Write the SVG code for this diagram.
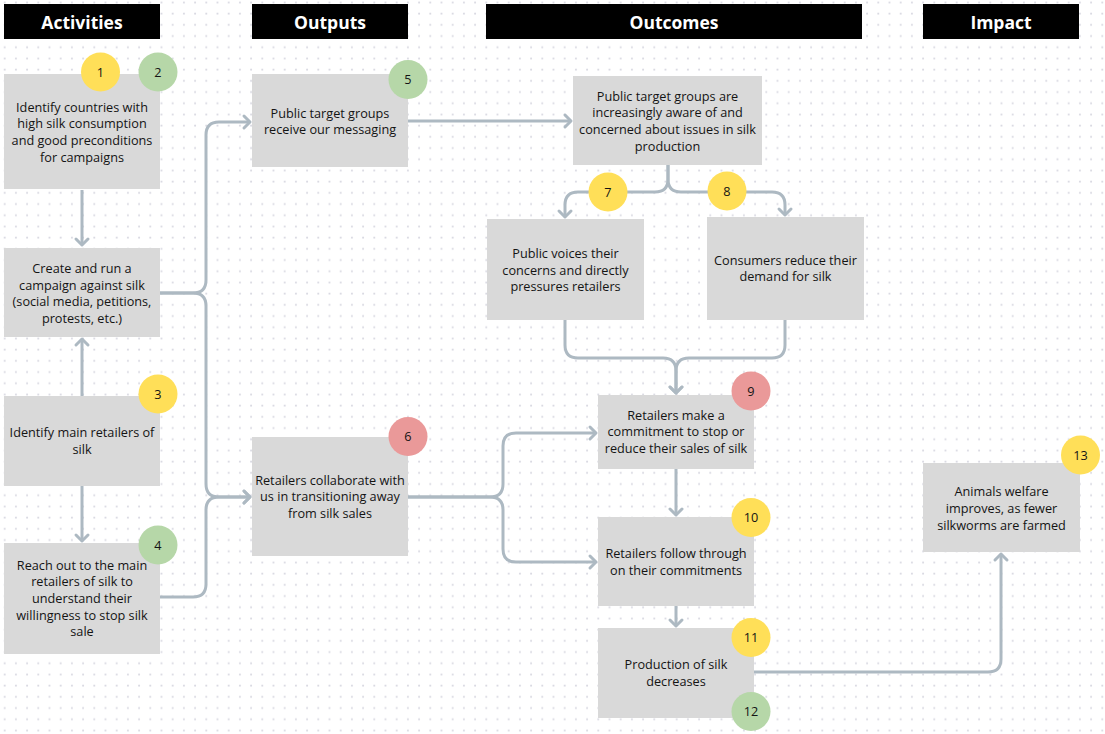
<svg xmlns="http://www.w3.org/2000/svg" width="1105" height="734" viewBox="0 0 1105 734">
<style>
.hdr{fill:#000}
.ht{font-family:"Open Sans","Noto Sans",sans-serif;font-weight:700;font-size:17.5px;fill:#fff;text-anchor:middle}
.box{fill:#d9d9d9}
.t{font-family:"Open Sans","Noto Sans",sans-serif;font-size:12.7px;fill:#141414;text-anchor:middle}
.n{font-family:"Open Sans","Noto Sans",sans-serif;font-size:12.7px;fill:#141414;text-anchor:middle}
.y{fill:#ffdf58}
.g{fill:#b6d7a8}
.r{fill:#ea9999}
.ca{fill:none;stroke:#adb9c2;stroke-width:3;marker-end:url(#arr)}
</style>
<defs>
<pattern id="dots" patternUnits="userSpaceOnUse" x="0" y="0" width="11.2" height="11.2">
<circle cx="4.7" cy="2.5" r="1" fill="#d8d8e1"/>
</pattern>
<marker id="arr" viewBox="-10 -10 20 20" markerWidth="20" markerHeight="20" refX="0" refY="0" orient="auto" markerUnits="userSpaceOnUse">
<path d="M-6,-6 L0,0 L-6,6" fill="none" stroke="#adb9c2" stroke-width="3" stroke-linecap="round" stroke-linejoin="round"/>
</marker>
</defs>
<rect width="1105" height="734" fill="#ffffff"/>
<rect width="1105" height="734" fill="url(#dots)"/>

<g id="headers">
<rect class="hdr" x="4" y="4" width="156" height="35"/>
<text class="ht" x="82" y="28.5">Activities</text>
<rect class="hdr" x="252" y="4" width="156" height="35"/>
<text class="ht" x="330" y="28.5">Outputs</text>
<rect class="hdr" x="486" y="4" width="376" height="35"/>
<text class="ht" x="674" y="28.5">Outcomes</text>
<rect class="hdr" x="923" y="4" width="156" height="35"/>
<text class="ht" x="1001" y="28.5">Impact</text>
</g>

<g id="connectors">
<path class="ca" d="M82,190 V245"/>
<path class="ca" d="M82,396 V339"/>
<path class="ca" d="M82,486 V541"/>
<path class="ca" d="M160,293 H193 Q206,293 206,280 V135 Q206,122 219,122 H250"/>
<path class="ca" d="M160,293 H193 Q206,293 206,306 V484 Q206,497 219,497 H250"/>
<path class="ca" d="M160,597 H193 Q206,597 206,584 V510 Q206,497 219,497 H250"/>
<path class="ca" d="M408,121 H571"/>
<path class="ca" d="M668,165 V179 Q668,192 655,192 H578 Q565,192 565,205 V217"/>
<path class="ca" d="M668,165 V179 Q668,192 681,192 H772 Q785,192 785,205 V215"/>
<path class="ca" d="M565,320 V345 Q565,358 578,358 H663 Q676,358 676,371 V393"/>
<path class="ca" d="M785,320 V345 Q785,358 772,358 H689 Q676,358 676,371 V393"/>
<path class="ca" d="M408,497 H490 Q503,497 503,484 V446 Q503,433 516,433 H596"/>
<path class="ca" d="M408,497 H490 Q503,497 503,510 V549 Q503,562 516,562 H596"/>
<path class="ca" d="M676,469 V515"/>
<path class="ca" d="M676,606 V626"/>
<path class="ca" d="M754,672 H988 Q1001,672 1001,659 V554"/>
</g>

<g id="n1">
<rect class="box" x="4" y="74" width="156" height="115"/>
<text class="t" x="82" y="111.5">Identify countries with</text>
<text class="t" x="82" y="128.2">high silk consumption</text>
<text class="t" x="82" y="144.9">and good preconditions</text>
<text class="t" x="82" y="161.6">for campaigns</text>
<circle class="y" cx="100.5" cy="72" r="19.5"/>
<text class="n" x="100.5" y="76.5">1</text>
<circle class="g" cx="158" cy="72" r="19.5"/>
<text class="n" x="158" y="76.5">2</text>
</g>

<g id="n2">
<rect class="box" x="4" y="248" width="156" height="89"/>
<text class="t" x="82" y="272.8">Create and run a</text>
<text class="t" x="82" y="289.5">campaign against silk</text>
<text class="t" x="82" y="306.2">(social media, petitions,</text>
<text class="t" x="82" y="322.9">protests, etc.)</text>
</g>

<g id="n3">
<rect class="box" x="4" y="396" width="156" height="90"/>
<text class="t" x="82" y="437">Identify main retailers of</text>
<text class="t" x="82" y="453.7">silk</text>
<circle class="y" cx="158" cy="394" r="19.5"/>
<text class="n" x="158" y="398.5">3</text>
</g>

<g id="n4">
<rect class="box" x="4" y="543" width="156" height="111"/>
<text class="t" x="82" y="569.5">Reach out to the main</text>
<text class="t" x="82" y="586.2">retailers of silk to</text>
<text class="t" x="82" y="602.9">understand their</text>
<text class="t" x="82" y="619.6">willingness to stop silk</text>
<text class="t" x="82" y="636.3">sale</text>
<circle class="g" cx="158" cy="545" r="19.5"/>
<text class="n" x="158" y="549.5">4</text>
</g>

<g id="n5">
<rect class="box" x="252" y="74" width="156" height="93"/>
<text class="t" x="330" y="117.5">Public target groups</text>
<text class="t" x="330" y="134.2">receive our messaging</text>
<circle class="g" cx="408" cy="79.5" r="19.5"/>
<text class="n" x="408" y="84">5</text>
</g>

<g id="n6">
<rect class="box" x="252" y="437" width="156" height="119"/>
<text class="t" x="330" y="484.5">Retailers collaborate with</text>
<text class="t" x="330" y="501.2">us in transitioning away</text>
<text class="t" x="330" y="517.9">from silk sales</text>
<circle class="r" cx="408" cy="436.5" r="19.5"/>
<text class="n" x="408" y="441">6</text>
</g>

<g id="n_aware">
<rect class="box" x="573" y="76" width="189" height="89"/>
<text class="t" x="667.5" y="100.6">Public target groups are</text>
<text class="t" x="667.5" y="117.3">increasingly aware of and</text>
<text class="t" x="667.5" y="134">concerned about issues in silk</text>
<text class="t" x="667.5" y="150.7">production</text>
</g>

<g id="n7">
<rect class="box" x="487" y="219" width="157" height="101"/>
<text class="t" x="565.5" y="257.8">Public voices their</text>
<text class="t" x="565.5" y="274.5">concerns and directly</text>
<text class="t" x="565.5" y="291.2">pressures retailers</text>
<circle class="y" cx="608" cy="192" r="19.5"/>
<text class="n" x="608" y="196.5">7</text>
</g>

<g id="n8">
<rect class="box" x="707" y="217" width="157" height="103"/>
<text class="t" x="785.5" y="264.6">Consumers reduce their</text>
<text class="t" x="785.5" y="281.3">demand for silk</text>
<circle class="y" cx="727" cy="191" r="19.5"/>
<text class="n" x="727" y="195.5">8</text>
</g>

<g id="n9">
<rect class="box" x="598" y="395" width="156" height="74"/>
<text class="t" x="676" y="419.6">Retailers make a</text>
<text class="t" x="676" y="436.3">commitment to stop or</text>
<text class="t" x="676" y="453">reduce their sales of silk</text>
<circle class="r" cx="751" cy="391" r="19.5"/>
<text class="n" x="751" y="395.5">9</text>
</g>

<g id="n10">
<rect class="box" x="598" y="517" width="156" height="89"/>
<text class="t" x="676" y="557.8">Retailers follow through</text>
<text class="t" x="676" y="574.5">on their commitments</text>
<circle class="y" cx="751" cy="517.5" r="19.5"/>
<text class="n" x="751" y="522">10</text>
</g>

<g id="n11">
<rect class="box" x="598" y="628" width="156" height="90"/>
<text class="t" x="676" y="668.8">Production of silk</text>
<text class="t" x="676" y="685.5">decreases</text>
<circle class="y" cx="751" cy="637.5" r="19.5"/>
<text class="n" x="751" y="642">11</text>
<circle class="g" cx="751" cy="711.5" r="19.5"/>
<text class="n" x="751" y="716">12</text>
</g>

<g id="n13">
<rect class="box" x="923" y="463" width="157" height="89"/>
<text class="t" x="1001.5" y="496.2">Animals welfare</text>
<text class="t" x="1001.5" y="512.9">improves, as fewer</text>
<text class="t" x="1001.5" y="529.6">silkworms are farmed</text>
<circle class="y" cx="1080.5" cy="455" r="19.5"/>
<text class="n" x="1080.5" y="459.5">13</text>
</g>
</svg>
